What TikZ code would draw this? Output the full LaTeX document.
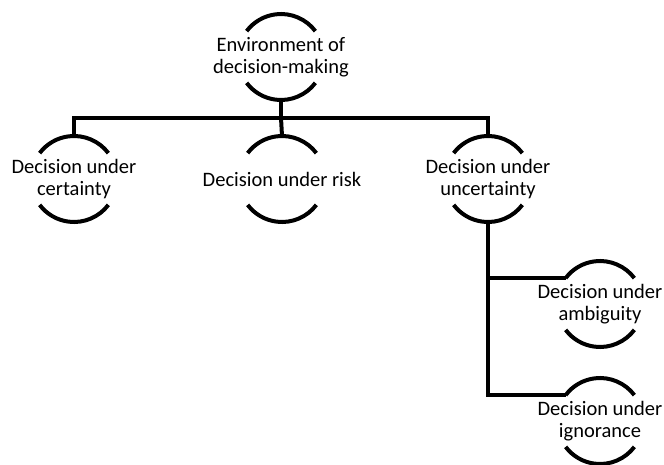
\documentclass[tikz,border=0pt]{standalone}
\usepackage{fontspec}
\setmainfont{Carlito}
\begin{document}
\begin{tikzpicture}[x=1pt,y=1pt,
  ring/.style={inner sep=0pt,align=center,
    font=\fontsize{20.5}{21.5}\selectfont},
  arcline/.style={line width=4pt},
  link/.style={line width=4pt}]
\useasboundingbox (0,0) rectangle (664,-465);
% nodes
\node[ring] (env) at (281,-57) {Environment of\\decision-making};
\node[ring] (cert) at (74,-179) {Decision under\\certainty};
\node[ring] (risk) at (282,-179) {Decision under risk};
\node[ring] (unc) at (488,-179) {Decision under\\uncertainty};
\node[ring] (amb) at (600,-304) {Decision under\\ambiguity};
\node[ring] (ign) at (600,-421) {Decision under\\ignorance};
% arcs round each label
\foreach \n in {env,cert,risk,unc,amb,ign}{
  \coordinate (\n-n) at ([shift={(90:43)}]\n.center);
  \coordinate (\n-s) at ([shift={(-90:43)}]\n.center);
  \coordinate (\n-w) at ([shift={(143:43)}]\n.center);
  \draw[arcline] ([shift={(37:43)}]\n.center) arc[start angle=37,end angle=143,radius=43];
  \draw[arcline] ([shift={(-37:43)}]\n.center) arc[start angle=-37,end angle=-143,radius=43];
}
% connectors
\coordinate (bus) at (281,-118);
\draw[link] (env-s) -- (bus);
\draw[link] (cert-n) |- (bus) -| (unc-n);
\draw[link] (bus) -- (risk-n);
\draw[link] (unc-s) |- (amb-w);
\draw[link] (unc-s) |- (ign-w);
\end{tikzpicture}
\end{document}
